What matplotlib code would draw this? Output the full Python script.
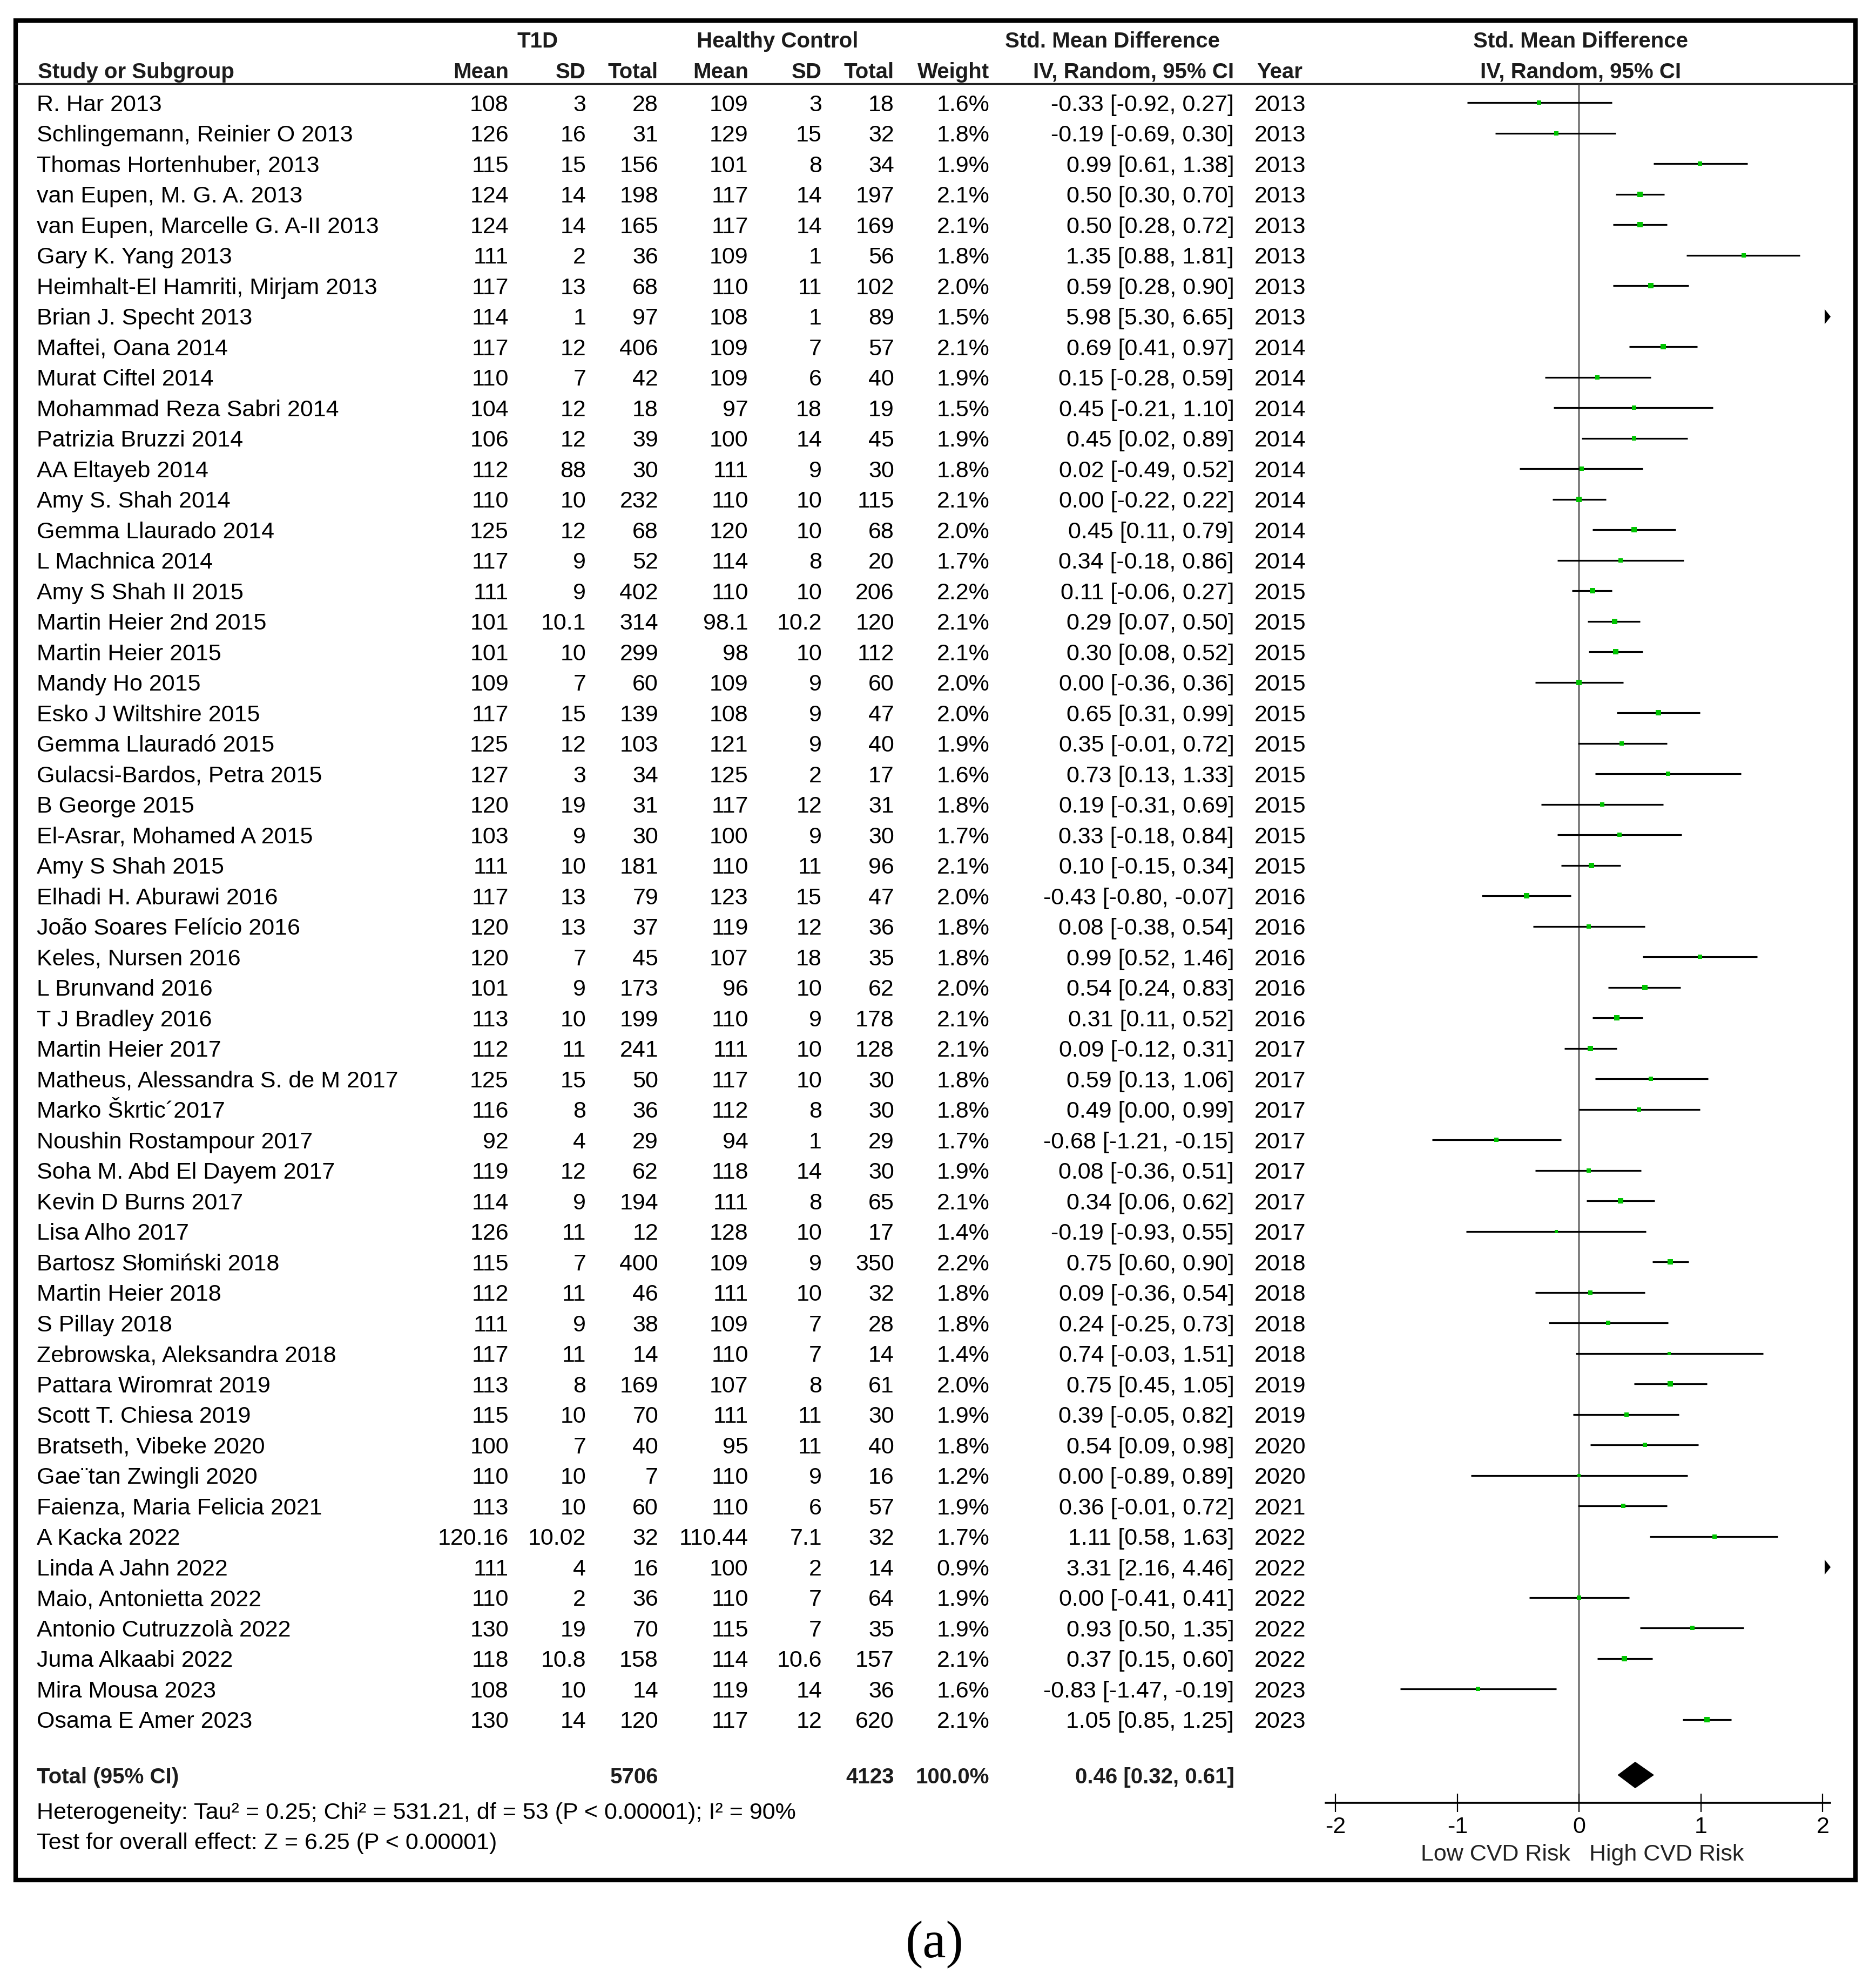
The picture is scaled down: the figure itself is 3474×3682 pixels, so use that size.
import matplotlib.pyplot as plt
from matplotlib.patches import Rectangle, Polygon

plt.rcParams['font.family'] = ['Liberation Sans', 'DejaVu Sans']

# data
study = [
    "R. Har 2013", "Schlingemann, Reinier O 2013", "Thomas Hortenhuber, 2013",
    "van Eupen, M. G. A. 2013", "van Eupen, Marcelle G. A-II 2013", "Gary K. Yang 2013",
    "Heimhalt-El Hamriti, Mirjam 2013", "Brian J. Specht 2013", "Maftei, Oana 2014",
    "Murat Ciftel 2014", "Mohammad Reza Sabri 2014", "Patrizia Bruzzi 2014",
    "AA Eltayeb 2014", "Amy S. Shah 2014", "Gemma Llaurado 2014", "L Machnica 2014",
    "Amy S Shah II 2015", "Martin Heier 2nd 2015", "Martin Heier 2015", "Mandy Ho 2015",
    "Esko J Wiltshire 2015", "Gemma Llauradó 2015", "Gulacsi-Bardos, Petra 2015",
    "B George 2015", "El-Asrar, Mohamed A 2015", "Amy S Shah 2015",
    "Elhadi H. Aburawi 2016", "João Soares Felício 2016", "Keles, Nursen 2016",
    "L Brunvand 2016", "T J Bradley 2016", "Martin Heier 2017",
    "Matheus, Alessandra S. de M 2017", "Marko Škrtic´2017", "Noushin Rostampour 2017",
    "Soha M. Abd El Dayem 2017", "Kevin D Burns 2017", "Lisa Alho 2017",
    "Bartosz Słomiński 2018", "Martin Heier 2018", "S Pillay 2018",
    "Zebrowska, Aleksandra 2018", "Pattara Wiromrat 2019", "Scott T. Chiesa 2019",
    "Bratseth, Vibeke 2020", "Gae¨tan Zwingli 2020", "Faienza, Maria Felicia 2021",
    "A Kacka 2022", "Linda A Jahn 2022", "Maio, Antonietta 2022",
    "Antonio Cutruzzolà 2022", "Juma Alkaabi 2022", "Mira Mousa 2023", "Osama E Amer 2023",
]
t1d_mean = [108, 126, 115, 124, 124, 111, 117, 114, 117, 110, 104, 106, 112, 110, 125, 117,
            111, 101, 101, 109, 117, 125, 127, 120, 103, 111, 117, 120, 120, 101, 113, 112,
            125, 116, 92, 119, 114, 126, 115, 112, 111, 117, 113, 115, 100, 110, 113, 120.16,
            111, 110, 130, 118, 108, 130]
t1d_sd = [3, 16, 15, 14, 14, 2, 13, 1, 12, 7, 12, 12, 88, 10, 12, 9,
          9, 10.1, 10, 7, 15, 12, 3, 19, 9, 10, 13, 13, 7, 9, 10, 11,
          15, 8, 4, 12, 9, 11, 7, 11, 9, 11, 8, 10, 7, 10, 10, 10.02,
          4, 2, 19, 10.8, 10, 14]
t1d_n = [28, 31, 156, 198, 165, 36, 68, 97, 406, 42, 18, 39, 30, 232, 68, 52,
         402, 314, 299, 60, 139, 103, 34, 31, 30, 181, 79, 37, 45, 173, 199, 241,
         50, 36, 29, 62, 194, 12, 400, 46, 38, 14, 169, 70, 40, 7, 60, 32,
         16, 36, 70, 158, 14, 120]
hc_mean = [109, 129, 101, 117, 117, 109, 110, 108, 109, 109, 97, 100, 111, 110, 120, 114,
           110, 98.1, 98, 109, 108, 121, 125, 117, 100, 110, 123, 119, 107, 96, 110, 111,
           117, 112, 94, 118, 111, 128, 109, 111, 109, 110, 107, 111, 95, 110, 110, 110.44,
           100, 110, 115, 114, 119, 117]
hc_sd = [3, 15, 8, 14, 14, 1, 11, 1, 7, 6, 18, 14, 9, 10, 10, 8,
         10, 10.2, 10, 9, 9, 9, 2, 12, 9, 11, 15, 12, 18, 10, 9, 10,
         10, 8, 1, 14, 8, 10, 9, 10, 7, 7, 8, 11, 11, 9, 6, 7.1,
         2, 7, 7, 10.6, 14, 12]
hc_n = [18, 32, 34, 197, 169, 56, 102, 89, 57, 40, 19, 45, 30, 115, 68, 20,
        206, 120, 112, 60, 47, 40, 17, 31, 30, 96, 47, 36, 35, 62, 178, 128,
        30, 30, 29, 30, 65, 17, 350, 32, 28, 14, 61, 30, 40, 16, 57, 32,
        14, 64, 35, 157, 36, 620]
weight = [1.6, 1.8, 1.9, 2.1, 2.1, 1.8, 2.0, 1.5, 2.1, 1.9, 1.5, 1.9, 1.8, 2.1, 2.0, 1.7,
          2.2, 2.1, 2.1, 2.0, 2.0, 1.9, 1.6, 1.8, 1.7, 2.1, 2.0, 1.8, 1.8, 2.0, 2.1, 2.1,
          1.8, 1.8, 1.7, 1.9, 2.1, 1.4, 2.2, 1.8, 1.8, 1.4, 2.0, 1.9, 1.8, 1.2, 1.9, 1.7,
          0.9, 1.9, 1.9, 2.1, 1.6, 2.1]
smd = [-0.33, -0.19, 0.99, 0.50, 0.50, 1.35, 0.59, 5.98, 0.69, 0.15, 0.45, 0.45, 0.02, 0.00,
       0.45, 0.34, 0.11, 0.29, 0.30, 0.00, 0.65, 0.35, 0.73, 0.19, 0.33, 0.10, -0.43, 0.08,
       0.99, 0.54, 0.31, 0.09, 0.59, 0.49, -0.68, 0.08, 0.34, -0.19, 0.75, 0.09, 0.24, 0.74,
       0.75, 0.39, 0.54, 0.00, 0.36, 1.11, 3.31, 0.00, 0.93, 0.37, -0.83, 1.05]
ci_lo = [-0.92, -0.69, 0.61, 0.30, 0.28, 0.88, 0.28, 5.30, 0.41, -0.28, -0.21, 0.02, -0.49,
         -0.22, 0.11, -0.18, -0.06, 0.07, 0.08, -0.36, 0.31, -0.01, 0.13, -0.31, -0.18, -0.15,
         -0.80, -0.38, 0.52, 0.24, 0.11, -0.12, 0.13, 0.00, -1.21, -0.36, 0.06, -0.93, 0.60,
         -0.36, -0.25, -0.03, 0.45, -0.05, 0.09, -0.89, -0.01, 0.58, 2.16, -0.41, 0.50, 0.15,
         -1.47, 0.85]
ci_hi = [0.27, 0.30, 1.38, 0.70, 0.72, 1.81, 0.90, 6.65, 0.97, 0.59, 1.10, 0.89, 0.52, 0.22,
         0.79, 0.86, 0.27, 0.50, 0.52, 0.36, 0.99, 0.72, 1.33, 0.69, 0.84, 0.34, -0.07, 0.54,
         1.46, 0.83, 0.52, 0.31, 1.06, 0.99, -0.15, 0.51, 0.62, 0.55, 0.90, 0.54, 0.73, 1.51,
         1.05, 0.82, 0.98, 0.89, 0.72, 1.63, 4.46, 0.41, 1.35, 0.60, -0.19, 1.25]
year = [2013] * 8 + [2014] * 8 + [2015] * 10 + [2016] * 5 + [2017] * 7 + [2018] * 4 + \
       [2019] * 2 + [2020] * 2 + [2021] + [2022] * 5 + [2023] * 2

total_t1d, total_hc = 5706, 4123
pooled, pooled_lo, pooled_hi = 0.46, 0.32, 0.61
ticks = [-2, -1, 0, 1, 2]

# layout is worked out in reference thumbnail pixels (1479 x 1568)
W, H = 1479, 1568
Y0, DY = 81, 24.06
TOFF = 2          # text sits a touch lower than va='center'
FS, FSB = 31, 29
GREEN = '#00c400'


def row_y(i):
    return Y0 + DY * i


fig = plt.figure(figsize=(34.74, 36.82), dpi=100)
bg = fig.add_axes([0, 0, 1, 1])
bg.set_xlim(0, W)
bg.set_ylim(H, 0)
bg.axis('off')

# frame + header rule
bg.add_patch(Rectangle((12.5, 16), 1450.5, 1467, fill=False, lw=6, ec='black'))
bg.plot([12.5, 1463], [66, 66], color='#222222', lw=2.4)

# headers
hkw = dict(fontsize=FSB, fontweight='bold', va='center', color='#1c1c1c')
bg.text(424, 31 + TOFF, "T1D", ha='center', **hkw)
bg.text(613, 31 + TOFF, "Healthy Control", ha='center', **hkw)
bg.text(877, 31 + TOFF, "Std. Mean Difference", ha='center', **hkw)
bg.text(1246, 31 + TOFF, "Std. Mean Difference", ha='center', **hkw)
bg.text(30, 55 + TOFF, "Study or Subgroup", ha='left', **hkw)
cols = [(401, "Mean"), (462, "SD"), (519, "Total"), (590, "Mean"), (648, "SD"),
        (705, "Total"), (780, "Weight"), (973, "IV, Random, 95% CI")]
for x, lab in cols:
    bg.text(x, 55 + TOFF, lab, ha='right', **hkw)
bg.text(991, 55 + TOFF, "Year", ha='left', **hkw)
bg.text(1246, 55 + TOFF, "IV, Random, 95% CI", ha='center', **hkw)

# study rows
for i, name in enumerate(study):
    y = row_y(i) + TOFF
    vals = [f"{t1d_mean[i]:g}", f"{t1d_sd[i]:g}", f"{t1d_n[i]}", f"{hc_mean[i]:g}",
            f"{hc_sd[i]:g}", f"{hc_n[i]}", f"{weight[i]:.1f}%",
            f"{smd[i]:.2f} [{ci_lo[i]:.2f}, {ci_hi[i]:.2f}]"]
    bg.text(29, y, name, ha='left', va='center', fontsize=FS)
    for (x, _), v in zip(cols, vals):
        bg.text(x, y, v, ha='right', va='center', fontsize=FS)
    bg.text(989, y, str(year[i]), ha='left', va='center', fontsize=FS)

# total row + footnotes
ty = 1400
tkw = dict(fontsize=FSB, fontweight='bold', va='center', color='#1c1c1c')
bg.text(29, ty + TOFF, "Total (95% CI)", ha='left', **tkw)
bg.text(519, ty + TOFF, str(total_t1d), ha='right', **tkw)
bg.text(705, ty + TOFF, str(total_hc), ha='right', **tkw)
bg.text(780, ty + TOFF, "100.0%", ha='right', **tkw)
bg.text(973, ty + TOFF, f"{pooled:.2f} [{pooled_lo:.2f}, {pooled_hi:.2f}]", ha='right', **tkw)
bg.text(29, 1428 + TOFF,
        "Heterogeneity: Tau² = 0.25; Chi² = 531.21, df = 53 (P < 0.00001); I² = 90%",
        ha='left', va='center', fontsize=FS)
bg.text(29, 1452 + TOFF, "Test for overall effect: Z = 6.25 (P < 0.00001)",
        ha='left', va='center', fontsize=FS)
bg.text(1238, 1461 + TOFF, "Low CVD Risk", ha='right', va='center', fontsize=FS, color='#222222')
bg.text(1253, 1461 + TOFF, "High CVD Risk", ha='left', va='center', fontsize=FS, color='#222222')
bg.text(737, 1534, "(a)", ha='center', va='center', fontsize=70, family='Liberation Serif')

# forest panel: 0 at x=1245, 96 px per unit; from header rule (66) to axis (1422)
PX = 96.0
xl, xr = (1045 - 1245) / PX, (1443 - 1245) / PX
yt, yb = (66 - Y0) / DY, (1422 - Y0) / DY
ax = fig.add_axes([1045 / W, 1 - 1422 / H, (1443 - 1045) / W, (1422 - 66) / H])
ax.set_xlim(xl, xr)
ax.set_ylim(yb, yt)
ax.patch.set_alpha(0)
for s in ['top', 'left', 'right']:
    ax.spines[s].set_visible(False)
ax.spines['bottom'].set_linewidth(2.6)
ax.set_yticks([])
ax.set_xticks(ticks)
ax.set_xticklabels([str(t) for t in ticks], fontsize=FS)
ax.tick_params(axis='x', direction='inout', length=24, width=1.6, pad=6)
ax.axvline(0, color='#333333', lw=1.6, zorder=1)

arrow = [(-0.4, -1), (0.4, 0), (-0.4, 1)]
for i in range(len(study)):
    lo, hi = max(ci_lo[i], xl), min(ci_hi[i], 2.0)
    if lo < hi:
        ax.plot([lo, hi], [i, i], color='black', lw=2.3, solid_capstyle='butt', zorder=2)
    if ci_hi[i] > 2.0:
        ax.plot([2.04], [i], marker=arrow, ms=20, color='black', mew=0, zorder=3)
    if xl < smd[i] < 2.0:
        ax.plot([smd[i]], [i], marker='s', ms=weight[i] * 3.4, color=GREEN, mew=0, zorder=3)

t_row = (ty - Y0) / DY
ax.add_patch(Polygon([(pooled_lo, t_row), (pooled, t_row - 0.42),
                      (pooled_hi, t_row), (pooled, t_row + 0.42)],
                     closed=True, color='black', zorder=3))

plt.savefig("out.png", dpi=100)
